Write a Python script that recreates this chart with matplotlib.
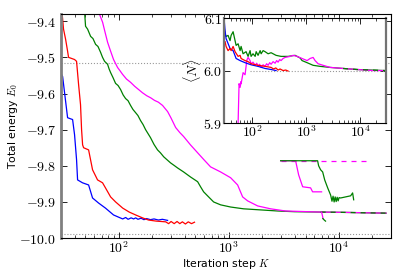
import numpy as np
import matplotlib
matplotlib.use("Agg")
import matplotlib.pyplot as plt
from matplotlib.ticker import FuncFormatter

plt.rcParams['mathtext.fontset'] = 'cm'
plt.rcParams['font.family'] = 'DejaVu Sans'

# main panel: total energy vs iteration step
blue_K = [30.3, 31.0, 34.4, 38.2, 39.8, 41.5, 42.4, 47.0, 53.4, 58.0, 65.8, 76.0, 90.0,
          109, 116, 122, 130, 137, 143, 150, 160, 170, 180, 195, 210, 230, 250, 279]
blue_E = [-9.547, -9.553, -9.667, -9.672, -9.714, -9.783, -9.839, -9.847, -9.853, -9.889,
          -9.903, -9.917, -9.936, -9.947, -9.943, -9.948, -9.944, -9.947, -9.944, -9.948,
          -9.945, -9.949, -9.946, -9.949, -9.947, -9.950, -9.948, -9.951]

red_K = [30.3, 31.6, 33.0, 34.4, 35.1, 39.8, 41.5, 43.3, 45.1, 46.1, 47.1, 48.1, 53.4,
         58.0, 64.4, 71.5, 76.0, 84.6, 94.0, 109, 125, 143, 165, 187, 220, 268, 285,
         300, 320, 340, 360, 380, 405, 430, 460, 490]
red_E = [-9.36, -9.422, -9.45, -9.483, -9.500, -9.506, -9.511, -9.575, -9.631, -9.700,
         -9.742, -9.750, -9.756, -9.811, -9.839, -9.847, -9.861, -9.886, -9.900, -9.917,
         -9.928, -9.936, -9.944, -9.950, -9.953, -9.955, -9.960, -9.954, -9.960, -9.954,
         -9.960, -9.955, -9.961, -9.955, -9.960, -9.956]

green_K = [49.0, 50.1, 52.3, 55.7, 58.5, 61.8, 65.0, 68.6, 71.5, 74.6, 79.4, 82.0, 84.6,
           89.0, 93.9, 99.0, 104.3, 110, 115.8, 122, 128.5, 135, 142.8, 150, 158.5, 167,
           176, 195, 210, 226, 240, 257, 275, 297, 320, 344, 390, 451, 523, 556, 593, 658,
           731, 846, 1043, 1369, 1954, 2789, 4000, 6860, 12000, 27000]
green_E = [-9.370, -9.414, -9.422, -9.442, -9.448, -9.464, -9.470, -9.486, -9.500, -9.511,
           -9.519, -9.532, -9.542, -9.556, -9.572, -9.578, -9.589, -9.604, -9.614, -9.620,
           -9.633, -9.644, -9.653, -9.661, -9.675, -9.686, -9.700, -9.722, -9.741, -9.756,
           -9.764, -9.775, -9.783, -9.792, -9.799, -9.806, -9.817, -9.831, -9.844, -9.858,
           -9.872, -9.886, -9.900, -9.908, -9.914, -9.919, -9.922, -9.925, -9.927, -9.928,
           -9.929, -9.931]

mag_K = [65.0, 71.6, 75.0, 79.4, 84.0, 90.0, 97.9, 103, 108.7, 118, 128.5, 140, 152, 165,
         180, 196, 212, 230, 251, 279, 300, 330, 360, 390, 450, 523, 600, 686, 846, 1043,
         1208, 1341, 1489, 1836, 2410, 3297, 6860, 12000, 27000]
mag_E = [-9.370, -9.403, -9.428, -9.458, -9.480, -9.506, -9.528, -9.537, -9.547, -9.560,
         -9.569, -9.580, -9.589, -9.598, -9.606, -9.612, -9.619, -9.624, -9.633, -9.650,
         -9.668, -9.694, -9.708, -9.719, -9.742, -9.764, -9.784, -9.803, -9.817, -9.833,
         -9.853, -9.886, -9.897, -9.911, -9.919, -9.925, -9.928, -9.929, -9.931]

# short pieces near K ~ 7000 and upper-right fragments
mag_drop_K = [7000, 7150, 7200]
mag_drop_E = [-9.928, -9.940, -9.946]
green_drop_K = [7200, 7400, 7600]
green_drop_E = [-9.946, -9.950, -9.953]

mag_dash_K = [2970, 17600]
mag_dash_E = [-9.786, -9.786]
mag_frag_K = [2970, 4063, 4330, 4710, 5560, 5800, 7000]
mag_frag_E = [-9.786, -9.786, -9.825, -9.858, -9.861, -9.872, -9.872]
green_frag_K = [2970, 6440, 6580, 6860, 7160, 7470, 7950, 8460, 8700, 8900, 9100, 9300,
                9500, 9700, 9900, 10100, 10420, 11580, 12860, 13400, 13700]
green_frag_E = [-9.786, -9.786, -9.800, -9.811, -9.817, -9.839, -9.861, -9.881, -9.898,
                -9.884, -9.900, -9.886, -9.899, -9.887, -9.897, -9.888, -9.889, -9.886,
                -9.883, -9.875, -9.894]

E_ref_upper = -9.516
E_ref_lower = -9.99

# inset: particle number <N>
iblue_K = [30.3, 31.6, 33.0, 39.1, 44.5, 50.6, 60.0, 74.1, 95.8, 129, 174, 225, 278]
iblue_N = [6.099, 6.076, 6.061, 6.042, 6.038, 6.023, 6.019, 6.015, 6.011, 6.008, 6.004,
           6.002, 6.000]

ired_K = [31.6, 33.0, 35.9, 39.1, 40.9, 44.5, 48.4, 55.1, 60.0, 62.6, 74.1, 84.3, 95.8,
          129, 174, 225, 250, 275, 303, 330, 375, 420, 464]
ired_N = [6.055, 6.046, 6.038, 6.042, 6.038, 6.046, 6.036, 6.027, 6.029, 6.023, 6.019,
          6.017, 6.013, 6.010, 6.008, 6.006, 6.003, 6.005, 6.001, 6.003, 6.000, 6.001, 5.999]

igreen_K = [30.3, 31.6, 33.0, 35.9, 39.1, 40.9, 44.5, 48.4, 50.6, 55.1, 60.0, 62.6, 68.1,
            77.4, 84.3, 91.8, 95.8, 104, 114, 119, 129, 141, 147, 160, 174, 198, 225, 278,
            344, 464, 626, 774, 843, 1044, 1349, 1816, 2781, 4842, 8790, 29000]
igreen_N = [6.084, 6.070, 6.065, 6.067, 6.057, 6.067, 6.074, 6.057, 6.048, 6.051, 6.038,
            6.046, 6.032, 6.036, 6.027, 6.038, 6.027, 6.032, 6.027, 6.036, 6.029, 6.038,
            6.032, 6.038, 6.036, 6.032, 6.034, 6.029, 6.027, 6.027, 6.029, 6.024, 6.019,
            6.015, 6.010, 6.008, 6.006, 6.004, 6.002, 6.000]

imag_K = [55.1, 55.2, 57.4, 60.0, 62.6, 62.7, 68.1, 74.1, 77.4, 80.0, 84.3, 91.8, 95.8,
          104, 114, 122, 129, 138, 147, 160, 174, 186, 198, 212, 225, 245, 267, 285, 303,
          325, 344, 375, 408, 506, 574, 681, 843, 1044, 1186, 1349, 1468, 1668, 2065,
          2781, 4842, 8790, 17400, 29000]
imag_N = [5.880, 5.903, 5.975, 5.968, 5.979, 5.975, 5.996, 5.992, 6.008, 6.020, 6.025,
          6.019, 6.013, 6.016, 6.010, 6.014, 6.008, 6.012, 6.006, 6.011, 6.008, 6.013,
          6.010, 6.015, 6.012, 6.017, 6.014, 6.019, 6.016, 6.021, 6.019, 6.023, 6.025,
          6.027, 6.029, 6.027, 6.023, 6.019, 6.023, 6.025, 6.019, 6.013, 6.010, 6.006,
          6.004, 6.002, 6.000, 6.000]

N_ref = 6.0

x_ticks = [1e2, 1e3, 1e4]


def log_fmt(v, p):
    return r'$10^{%d}$' % int(round(np.log10(v)))


def dec_fmt(v, p):
    return r'$%.1f$' % v


fig = plt.figure(figsize=(4.07, 2.74), dpi=100)
ax = fig.add_axes([0.150, 0.131, 0.811, 0.818])

lw = 0.9
ax.axhline(E_ref_upper, color='0.6', ls=':', lw=0.8)
ax.axhline(E_ref_lower, color='0.6', ls=':', lw=0.8)
ax.plot(green_K, green_E, color='green', lw=lw)
ax.plot(mag_K, mag_E, color='magenta', lw=lw)
ax.plot(green_K[-3:], green_E[-3:], color='green', lw=lw, dashes=(4, 4))
ax.plot(blue_K, blue_E, color='blue', lw=lw)
ax.plot(red_K, red_E, color='red', lw=lw)
ax.plot(mag_drop_K, mag_drop_E, color='magenta', lw=lw)
ax.plot(green_drop_K, green_drop_E, color='green', lw=lw)
ax.plot(mag_dash_K, mag_dash_E, color='magenta', lw=lw, dashes=(4, 4))
ax.plot(mag_frag_K, mag_frag_E, color='magenta', lw=lw)
ax.plot(green_frag_K, green_frag_E, color='green', lw=lw)

ax.set_xscale('log')
ax.set_xlim(30, 30000)
ax.set_ylim(-10.0, -9.38)
ax.set_xticks(x_ticks)
ax.xaxis.set_major_formatter(FuncFormatter(log_fmt))
ax.set_yticks([-10.0, -9.9, -9.8, -9.7, -9.6, -9.5, -9.4])
ax.yaxis.set_major_formatter(FuncFormatter(dec_fmt))
ax.tick_params(which='both', direction='in', top=True, right=True, labelsize=10)
ax.tick_params(which='major', length=4.5, width=0.6)
ax.tick_params(which='minor', length=2.2, width=0.5)
ax.tick_params(axis='x', pad=2)
ax.set_xlabel(r'Iteration step $K$', fontsize=7.8)
ax.set_ylabel(r'Total energy $E_0$', fontsize=7.8)
ax.xaxis.set_label_coords(0.5, -0.085)
ax.yaxis.set_label_coords(-0.125, 0.5)
ax.spines['left'].set_color('0.5')
ax.spines['left'].set_linewidth(2.0)
for s in ['top', 'right', 'bottom']:
    ax.spines[s].set_linewidth(0.8)

# inset
ins = fig.add_axes([0.550, 0.551, 0.398, 0.383])
ins.hlines(N_ref, 90, 30000, color='0.6', ls=':', lw=0.8)
ins.plot(igreen_K, igreen_N, color='green', lw=lw)
ins.plot(imag_K, imag_N, color='magenta', lw=lw)
ins.plot(igreen_K[-3:], igreen_N[-3:], color='green', lw=lw, dashes=(4, 4))
ins.plot(iblue_K, iblue_N, color='blue', lw=lw)
ins.plot(ired_K, ired_N, color='red', lw=lw)
ins.set_xscale('log')
ins.set_xlim(30, 30000)
ins.set_ylim(5.9, 6.1)
ins.set_xticks(x_ticks)
ins.xaxis.set_major_formatter(FuncFormatter(log_fmt))
ins.set_yticks([5.9, 6.0, 6.1])
ins.yaxis.set_major_formatter(FuncFormatter(dec_fmt))
ins.tick_params(which='both', direction='in', top=True, right=True, labelsize=10, pad=1)
ins.tick_params(which='major', length=4.5, width=0.6)
ins.tick_params(which='minor', length=2.2, width=0.5)
ins.set_ylabel(r'$\langle N\rangle$', fontsize=10, labelpad=0)
for s in ['left', 'right']:
    ins.spines[s].set_color('0.45')
    ins.spines[s].set_linewidth(1.6)
for s in ['top', 'bottom']:
    ins.spines[s].set_linewidth(0.8)

fig.savefig('out.png', dpi=100)
